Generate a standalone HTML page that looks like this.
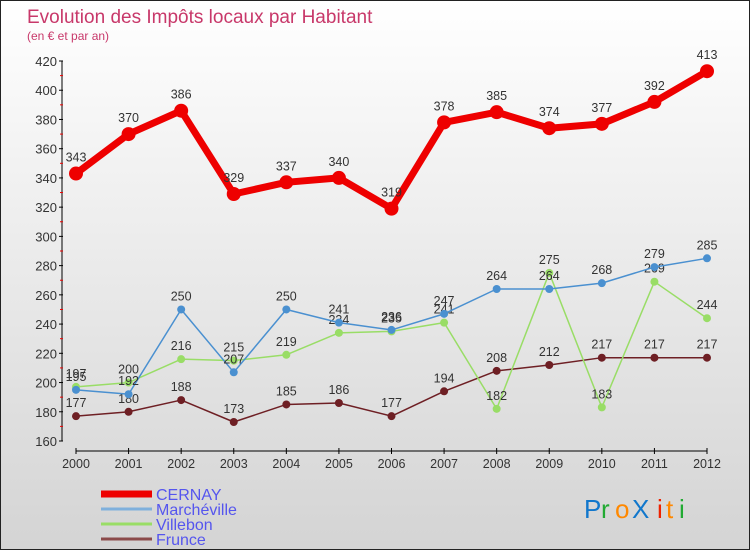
<!DOCTYPE html>
<html><head><meta charset="utf-8"><style>
body{margin:0}
#wrap{position:relative;width:748px;height:548px;border:1px solid #222;background:linear-gradient(#fff 0%,#f2f2f2 30%,#d4d4d4 100%);overflow:hidden;font-family:"Liberation Sans",sans-serif}
svg{position:absolute;left:0;top:0}
</style></head><body>
<div id="wrap">
<svg id="c" width="750" height="550"></svg>
</div>
<script>
const years=["2000","2001","2002","2003","2004","2005","2006","2007","2008","2009","2010","2011","2012"];
const cernay=[343,370,386,329,337,340,319,378,385,374,377,392,413];
const marcheville=[195,192,250,207,250,241,236,247,264,264,268,279,285];
const villebon=[197,200,216,215,219,234,235,241,182,275,183,269,244];
const frunce=[177,180,188,173,185,186,177,194,208,212,217,217,217];
const yTicks=[160,180,200,220,240,260,280,300,320,340,360,380,400,420];
const seriesNames=["CERNAY","Marchéville","Villebon","Frunce"];
const svg=document.getElementById('c');const NS="http://www.w3.org/2000/svg";
function el(t,a,txt){const e=document.createElementNS(NS,t);for(const k in a)e.setAttribute(k,a[k]);if(txt!==undefined)e.textContent=txt;svg.appendChild(e);return e;}
const x=i=>75+i*(706-75)/(years.length-1);
const y=v=>440-(v-160)*(380/260);
let e;
e=el('text',{x:26,y:22,fill:'#c8386a','font-size':19},'Evolution des Impôts locaux par Habitant');


e=el('text',{x:26,y:39,fill:'#c8386a','font-size':12},'(en € et par an)');


e=el('line',{x1:61,y1:60,x2:61,y2:440,stroke:'#000','stroke-width':1});


yTicks.forEach((v,i)=>{
 el('line',{x1:58,x2:62,y1:y(v),y2:y(v),stroke:'#000'});
 e=el('text',{x:56,y:y(v)+5,'text-anchor':'end','font-size':13,fill:'#333'},String(v));
 
 
 if(i<yTicks.length-1) el('line',{x1:59,x2:62,y1:y(v+10),y2:y(v+10),stroke:'#e00'});
});
e=el('line',{x1:75,y1:450,x2:706,y2:450,stroke:'#000'});


years.forEach((t,i)=>{
 el('line',{x1:x(i),x2:x(i),y1:447,y2:453,stroke:'#000'});
 e=el('text',{x:x(i),y:467,'text-anchor':'middle','font-size':12.5,fill:'#333'},t);
 
 
});
function series(data,color,w,r,name,labelDy){
 const g=document.createElementNS(NS,'g');svg.appendChild(g);
 
 
 const p=document.createElementNS(NS,'polyline');
 p.setAttribute('points',data.map((v,i)=>x(i)+','+y(v)).join(' '));
 p.setAttribute('fill','none');p.setAttribute('stroke',color);p.setAttribute('stroke-width',w);p.setAttribute('stroke-linejoin','round');
 
 
 g.appendChild(p);
 data.forEach((v,i)=>{
  const c=document.createElementNS(NS,'circle');
  c.setAttribute('cx',x(i));c.setAttribute('cy',y(v));c.setAttribute('r',r);c.setAttribute('fill',color);
  
  
  g.appendChild(c);
  const t=document.createElementNS(NS,'text');
  t.setAttribute('x',x(i));t.setAttribute('y',y(v)+labelDy);t.setAttribute('text-anchor','middle');t.setAttribute('font-size',12.5);t.setAttribute('fill','#333');
  t.textContent=v;
  
  
  g.appendChild(t);
 });
}
series(frunce,'#6e1f24',1.5,4,'frunce',-9);
series(villebon,'#99dd66',1.5,4,'villebon',-9);
series(marcheville,'#4a90d0',1.5,4,'marcheville',-9);
series(cernay,'#ee0000',7,7,'cernay',-12);
const lc=['#ee0000','#7fb0dc','#99dd66','#8b4a4a'],lw=[7,3,3,3];
seriesNames.forEach((n,i)=>{
 const yy=493+i*15;
 e=el('line',{x1:100,x2:151,y1:yy,y2:yy,stroke:lc[i],'stroke-width':lw[i]});
 
 
 e=el('text',{x:155,y:yy+6,'font-size':16,fill:'#5555ee'},n);
 
 
});
const logo=[['P','#1177cc'],['r','#22aa33'],['o','#ff8800'],['X','#1177cc'],['i','#ee2200'],['t','#ff8800'],['i','#22aa33']];
const lx=[583,600,614,631,656,665,678];
logo.forEach((l,i)=>{
 e=el('text',{x:lx[i],y:517,'font-size':26,fill:l[1]},l[0]);
 
 
});
</script>
</body></html>
